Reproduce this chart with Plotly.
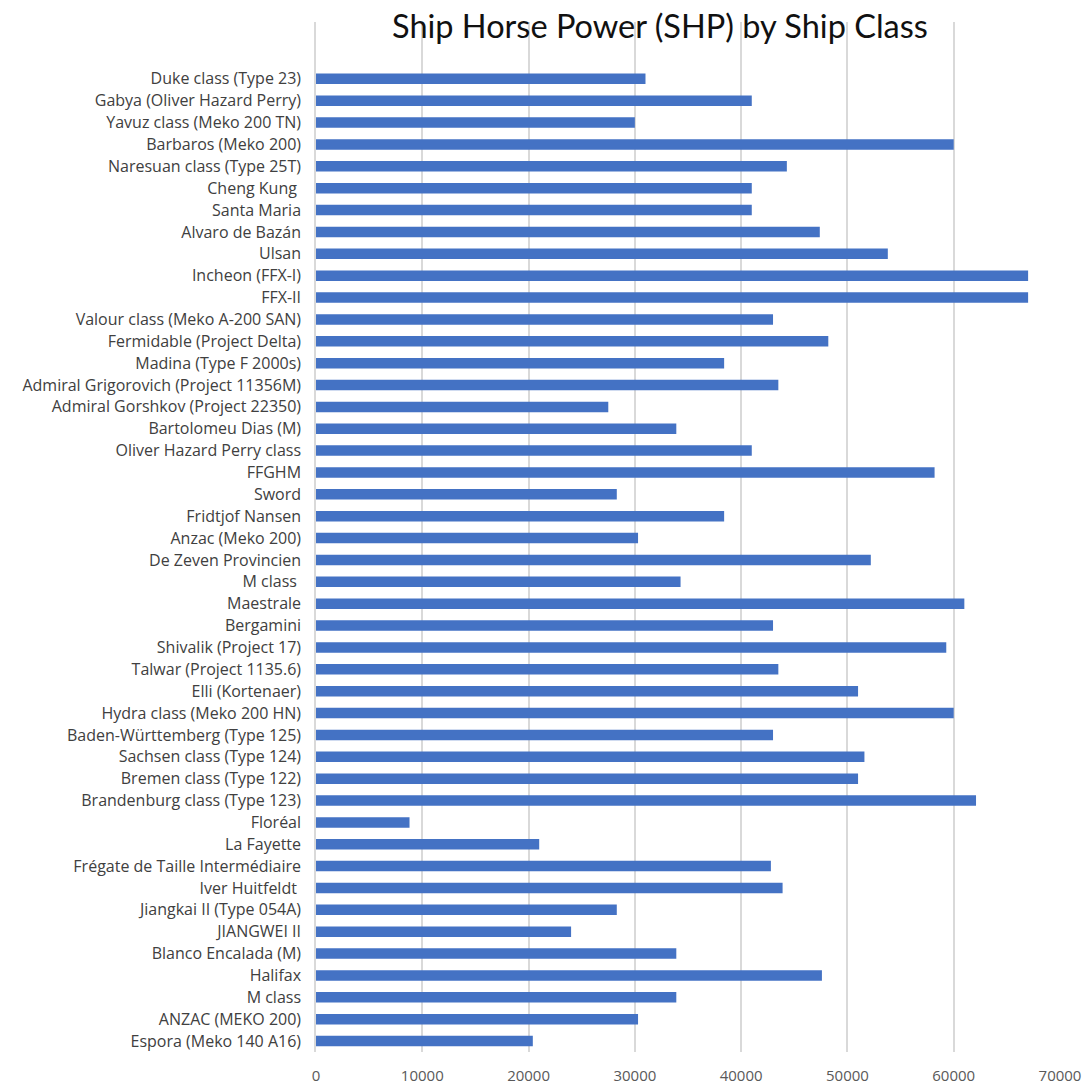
import plotly.graph_objects as go

# ship classes, top to bottom as shown
ship_classes = [
    "Duke class (Type 23)", "Gabya (Oliver Hazard Perry)", "Yavuz class (Meko 200 TN)",
    "Barbaros (Meko 200)", "Naresuan class (Type 25T)", "Cheng Kung ", "Santa Maria",
    "Alvaro de Bazán", "Ulsan", "Incheon (FFX-I)", "FFX-II", "Valour class (Meko A-200 SAN)",
    "Fermidable (Project Delta)", "Madina (Type F 2000s)", "Admiral Grigorovich (Project 11356M)",
    "Admiral Gorshkov (Project 22350)", "Bartolomeu Dias (M)", "Oliver Hazard Perry class",
    "FFGHM", "Sword", "Fridtjof Nansen", "Anzac (Meko 200)", "De Zeven Provincien", "M class ",
    "Maestrale", "Bergamini", "Shivalik (Project 17)", "Talwar (Project 1135.6)", "Elli (Kortenaer)",
    "Hydra class (Meko 200 HN)", "Baden-Württemberg (Type 125)", "Sachsen class (Type 124)",
    "Bremen class (Type 122)", "Brandenburg class (Type 123)", "Floréal", "La Fayette",
    "Frégate de Taille Intermédiaire", "Iver Huitfeldt ", "Jiangkai II (Type 054A)", "JIANGWEI II",
    "Blanco Encalada (M)", "Halifax", "M class", "ANZAC (MEKO 200)", "Espora (Meko 140 A16)",
]

shp = [
    31000, 41000, 30000, 60000, 44300, 41000, 41000, 47400, 53800, 67000, 67000, 43000,
    48200, 38400, 43500, 27500, 33900, 41000, 58200, 28300, 38400, 30300, 52200, 34300,
    61000, 43000, 59300, 43500, 51000, 60000, 43000, 51600, 51000, 62100, 8800, 21000,
    42800, 43900, 28300, 24000, 33900, 47600, 33900, 30300, 20400,
]

x_ticks = [0, 10000, 20000, 30000, 40000, 50000, 60000, 70000]

fig = go.Figure()
fig.add_trace(go.Bar(x=shp, y=ship_classes, orientation="h", marker=dict(color="#4472C4", line=dict(width=0))))

n = len(ship_classes)
# page body adds an 8px margin, so the figure is sized to fit the window
fig.update_layout(
    width=1083, height=1080,
    margin=dict(l=308, r=31, t=14, b=36),
    paper_bgcolor="white", plot_bgcolor="white",
    font=dict(family="Open Sans, sans-serif", color="#595959", size=13),
    title=dict(text="Ship Horse Power (SHP) by Ship Class", x=0.602, xanchor="center",
               y=0.983, yanchor="middle", yref="container",
               font=dict(size=32.5, color="#111111", family="Lato, Open Sans, sans-serif")),
    bargap=0.52,
    showlegend=False,
)
fig.update_xaxes(range=[0, 70000], tickvals=x_ticks, ticktext=[str(v) for v in x_ticks],
                 showgrid=True, gridcolor="#d9d9d9", gridwidth=1.5, zeroline=False,
                 showline=False, ticklabelstandoff=13, automargin=False,
                 tickfont=dict(size=15, color="#595959"))
fig.update_yaxes(type="category", categoryorder="array", categoryarray=ship_classes,
                 range=[n - 0.5, -2.6], showgrid=False, showline=True, linecolor="#d9d9d9",
                 linewidth=1.5, ticklabelstandoff=10, automargin=False,
                 tickfont=dict(size=16, color="#404040"))

fig.write_html("out.html")
